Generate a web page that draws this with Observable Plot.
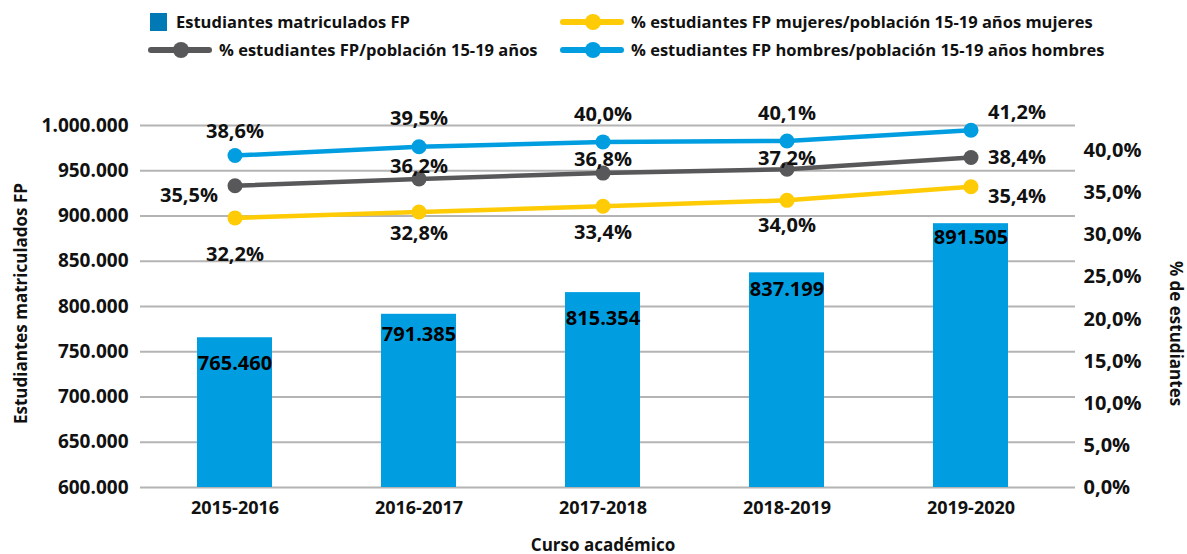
<!DOCTYPE html>
<html><head><meta charset="utf-8">
<script src="https://cdn.jsdelivr.net/npm/d3@7"></script>
<script src="https://cdn.jsdelivr.net/npm/@observablehq/plot@0.6"></script>
<style>
body{margin:0;background:#fff;font-family:"Open Sans",sans-serif;}
#wrap{position:relative;width:1187px;height:554px;overflow:hidden;}
#legend{display:block;}
</style></head><body>
<div id="wrap"><div id="legend"></div><div id="chart"></div></div>
<script>
// ---------- data ----------
const categories = ["2015-2016","2016-2017","2017-2018","2018-2019","2019-2020"];
const matriculados = [765460, 791385, 815354, 837199, 891505];
const pctTotal   = [35.5, 36.2, 36.8, 37.2, 38.4];
const pctMujeres = [32.2, 32.8, 33.4, 34.0, 35.4];
const pctHombres = [38.6, 39.5, 40.0, 40.1, 41.2];
const leftTicks  = [600000, 650000, 700000, 750000, 800000, 850000, 900000, 950000, 1000000];
const rightTicks = [0, 5, 10, 15, 20, 25, 30, 35, 40];
const barName    = "Estudiantes matriculados FP";
const nameTotal  = "% estudiantes FP/población 15-19 años";
const nameMuj    = "% estudiantes FP mujeres/población 15-19 años mujeres";
const nameHom    = "% estudiantes FP hombres/población 15-19 años hombres";
const yTitle     = "Estudiantes matriculados FP";
const y2Title    = "% de estudiantes";
const xTitle     = "Curso académico";

// ---------- styling / layout ----------
const C = {bar:"#009EE0", barLegend:"#0079B4", grid:"#b4b4b4", gray:"#58585A", yellow:"#FFCB05", blue:"#009EE0"};
const yDomain = [600000, 1000000];
// secondary (%) axis as drawn in the source chart, expressed in primary-axis units
const rightAxisY = v => 600000 + 9304 * v;
// % lines as positioned in the source chart, expressed in primary-axis units
const lineY = v => 551381 + 10762 * v;

const es = d3.formatLocale({decimal:",", thousands:".", grouping:[3], currency:["","€"]});
const fmtInt = es.format(",d");
const fmt1 = es.format(".1f");
const fmtPct = v => fmt1(v) + "%";

const series = [
  {name:nameMuj,   values:pctMujeres, color:C.yellow,
   off:[[0,37],[0,22],[0,26],[0,25],[46,10]]},
  {name:nameTotal, values:pctTotal,   color:C.gray,
   off:[[-46,10],[0,-12],[0,-13],[0,-11],[46,0]]},
  {name:nameHom,   values:pctHombres, color:C.blue,
   off:[[0,-24],[0,-28],[0,-27],[0,-27],[46,-18]]}
];
const barLabelDy = [26, 20, 26, 17, 14];

const bars = categories.map((c, i) => ({curso:c, valor:matriculados[i]}));

// ---------- legend ----------
const lg = d3.select("#legend").append("svg").attr("width",1187).attr("height",70)
  .style("display","block").style("font-family","'Open Sans',sans-serif")
  .style("font-size","16.5px").style("font-weight",700);
function lineItem(x, y, color, text){
  lg.append("line").attr("x1",x).attr("x2",x+58).attr("y1",y).attr("y2",y)
    .attr("stroke",color).attr("stroke-width",6).attr("stroke-linecap","round");
  lg.append("circle").attr("cx",x+30).attr("cy",y).attr("r",8).attr("fill",color);
  lg.append("text").attr("x",x+68).attr("y",y).attr("dy","0.35em").attr("fill","#111").text(text);
}
lg.append("rect").attr("x",150).attr("y",13).attr("width",17).attr("height",18).attr("fill",C.barLegend);
lg.append("text").attr("x",176).attr("y",22).attr("dy","0.35em").attr("fill","#111").text(barName);
lineItem(563, 22, C.yellow, nameMuj);
lineItem(151, 50, C.gray, nameTotal);
lineItem(563, 50, C.blue, nameHom);

// ---------- chart ----------
const marks = [
  Plot.ruleY(leftTicks, {stroke:C.grid, strokeWidth:2, insetLeft:-2, insetRight:-12}),
  Plot.barY(bars, {x:"curso", y1:yDomain[0], y2:"valor", fill:C.bar}),
  ...bars.map((b, i) => Plot.text([b], {x:"curso", y:"valor", text:d => fmtInt(d.valor),
      dy:barLabelDy[i], fontSize:20, fontWeight:700, fill:"#000"}))
];
series.forEach(s => {
  const rows = s.values.map((v, i) => ({curso:categories[i], pct:v}));
  marks.push(Plot.line(rows, {x:"curso", y:d => lineY(d.pct), stroke:s.color, strokeWidth:4.5}));
  marks.push(Plot.dot(rows, {x:"curso", y:d => lineY(d.pct), r:7.5, fill:s.color}));
});
series.forEach(s => {
  s.values.forEach((v, i) => {
    const [dx, dy] = s.off[i];
    marks.push(Plot.text([{curso:categories[i], pct:v}], {x:"curso", y:d => lineY(d.pct),
      text:d => fmtPct(d.pct), dx, dy, textAnchor:"middle",
      fontSize:20, fontWeight:700, fill:"#111"}));
  });
});
const rightLabel = new Map(rightTicks.map(v => [rightAxisY(v), fmtPct(v)]));
marks.push(
  Plot.axisY(leftTicks, {anchor:"left", tickSize:0, tickPadding:14, tickFormat:fmtInt, label:null, fontSize:19}),
  Plot.axisY(rightTicks.map(rightAxisY), {anchor:"right", tickSize:0, tickPadding:20,
    tickFormat:d => rightLabel.get(d), label:null, fontSize:20}),
  Plot.axisX({tickSize:0, tickPadding:14, label:null}),
  Plot.text([yTitle], {frameAnchor:"left", textAnchor:"middle", rotate:-90, dx:-121, dy:-3, fontSize:17, fontWeight:700, fill:"#111"}),
  Plot.text([y2Title], {frameAnchor:"right", textAnchor:"middle", rotate:90, dx:112, dy:27, fontSize:17, fontWeight:700, fill:"#111"}),
  Plot.text([xTitle], {frameAnchor:"bottom", dy:63, fontSize:17, fontWeight:700, fill:"#111"})
);

const chart = Plot.plot({
  width:1187, height:484,
  marginTop:55, marginBottom:67, marginLeft:142, marginRight:124,
  style:{fontFamily:"'Open Sans',sans-serif", fontSize:"18px", fontWeight:700, color:"#111", background:"#fff", overflow:"visible"},
  x:{type:"band", domain:categories, paddingInner:0.59, paddingOuter:0.295},
  y:{domain:yDomain},
  marks
});
document.getElementById("chart").appendChild(chart);
</script>
</body></html>
